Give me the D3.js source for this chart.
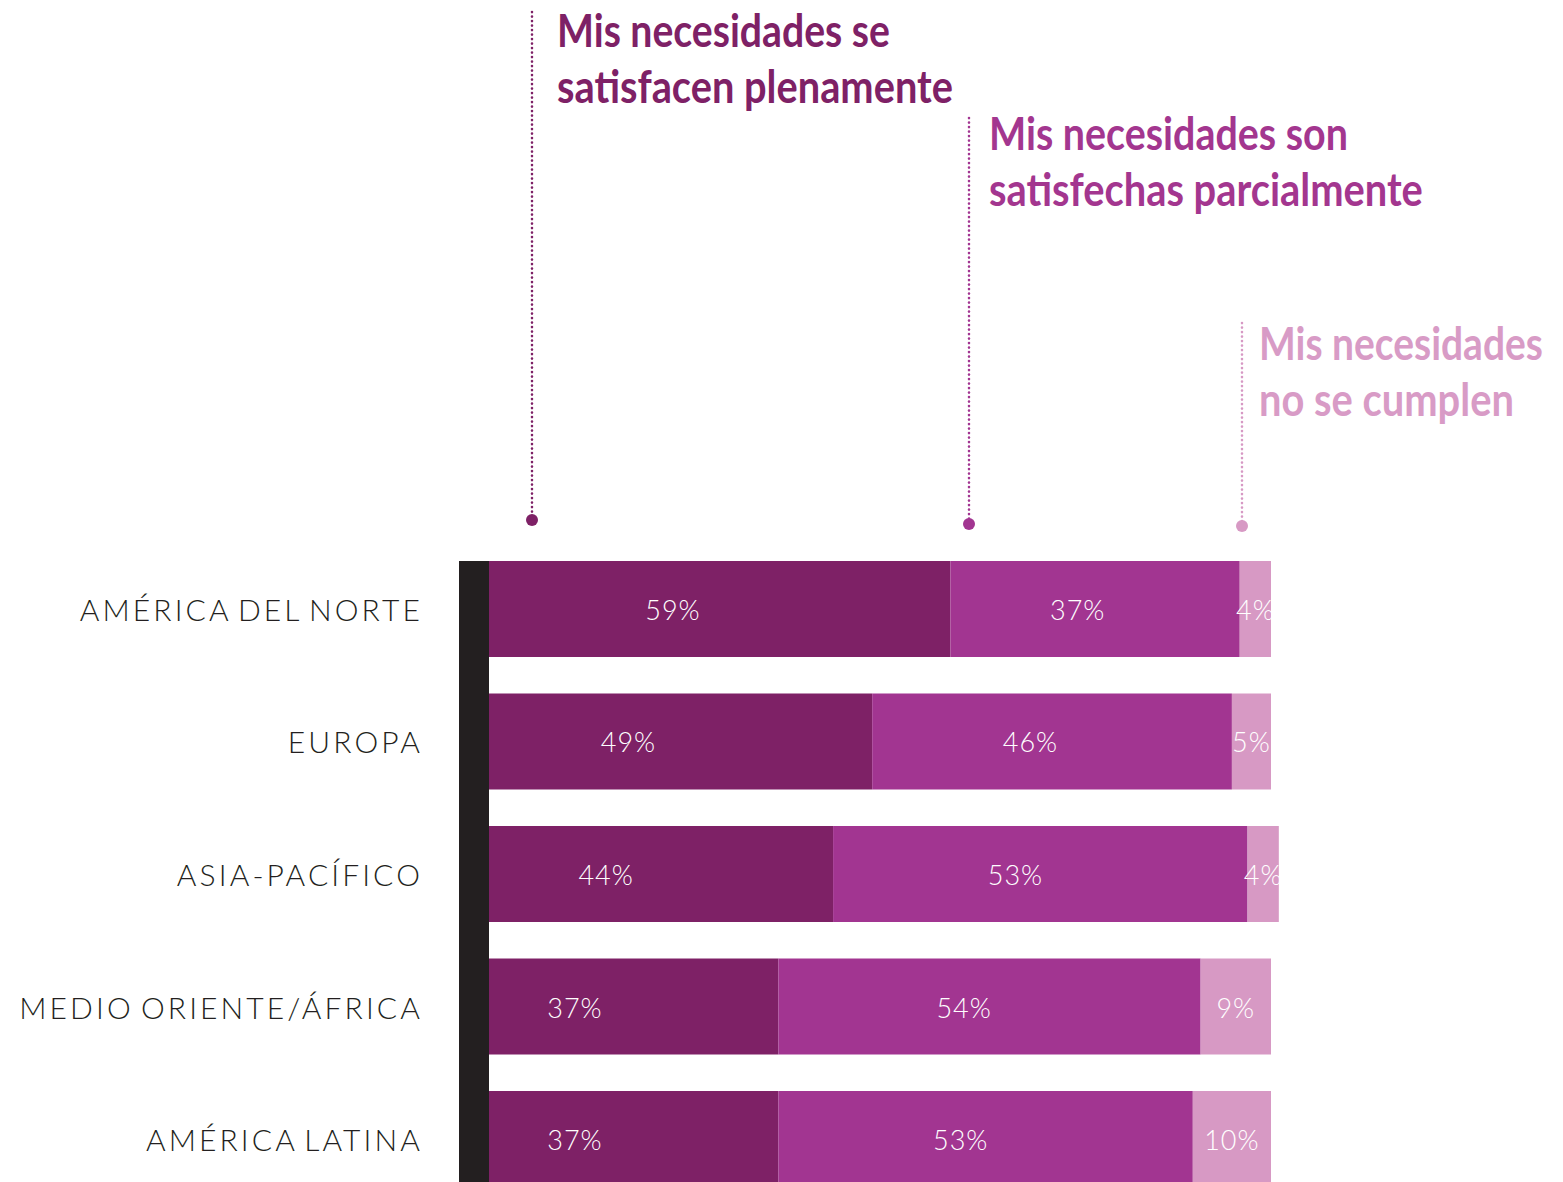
<!DOCTYPE html>
<meta charset="utf-8">
<style>
body {
  margin: 0;
  background: #fff;
}
.region {
  font-family: Lato, "Open Sans", sans-serif;
  font-weight: 300;
  font-size: 30px;
  letter-spacing: 3.1px;
  word-spacing: -4px;
  fill: #231f20;
}
.val {
  font-family: Lato, "Open Sans", sans-serif;
  font-weight: 300;
  font-size: 27px;
  letter-spacing: 1px;
  fill: #fff;
}
.note {
  font-family: Lato, "Open Sans", sans-serif;
  font-weight: 700;
  font-size: 45px;
}
</style>
<body>
<script src="https://d3js.org/d3.v7.min.js"></script>
<script>
// data
var regions = ["AMÉRICA DEL NORTE", "EUROPA", "ASIA-PACÍFICO", "MEDIO ORIENTE/ÁFRICA", "AMÉRICA LATINA"];
var fully = [59, 49, 44, 37, 37];
var partly = [37, 46, 53, 54, 53];
var notMet = [4, 5, 4, 9, 10];
var seriesNames = ["Mis necesidades se satisfacen plenamente",
                   "Mis necesidades son satisfechas parcialmente",
                   "Mis necesidades no se cumplen"];

var colors = ["#7e2166", "#a23591", "#d799c4"];
var textColors = ["#7e2166", "#a3368f", "#d89bc6"];
// where the value label sits inside a segment of width w (pixels)
var labelAt = [
  function(w) { return 0.57 * w - 79; },
  function(w) { return 0.44 * w; },
  function(w) { return 0.5 * w; }
];

var width = 1563, height = 1182;

var svg = d3.select("body").append("svg")
  .attr("width", width).attr("height", height);

var x = d3.scaleLinear().domain([0, 100]).range([489, 1271]);
var y = d3.scaleBand().domain(regions).range([561, 1187])
  .paddingInner(0.2755).paddingOuter(0);

var rows = regions.map(function(r, i) {
  return {region: r, values: [fully[i], partly[i], notMet[i]]};
});

// build segments
var segs = [];
rows.forEach(function(row) {
  var acc = 0;
  row.values.forEach(function(v, k) {
    segs.push({region: row.region, k: k, v: v, x0: acc, x1: acc + v});
    acc += v;
  });
});

svg.append("g").selectAll("rect")
  .data(segs).enter().append("rect")
  .attr("x", d => x(d.x0))
  .attr("y", d => y(d.region))
  .attr("width", d => x(d.x1) - x(d.x0))
  .attr("height", y.bandwidth())
  .attr("fill", d => colors[d.k]);

svg.append("g").selectAll("text")
  .data(segs).enter().append("text")
  .attr("class", "val")
  .attr("x", d => x(d.x0) + labelAt[d.k](x(d.x1) - x(d.x0)))
  .attr("y", d => y(d.region) + y.bandwidth() / 2 + 11)
  .attr("text-anchor", "middle")
  .text(d => d.v + "%");

// dark axis bar on the left
svg.append("rect")
  .attr("x", 459).attr("width", 30)
  .attr("y", y.range()[0]).attr("height", height - y.range()[0])
  .attr("fill", "#231f20");

// region labels
svg.append("g").selectAll("text")
  .data(regions).enter().append("text")
  .attr("class", "region")
  .attr("x", 423)
  .attr("y", d => y(d) + y.bandwidth() / 2 + 12)
  .attr("text-anchor", "end")
  .text(d => d);

// annotations: dotted leader + dot + two lines of bold text
var notes = [
  {lx: 532, top: 12, dot: 520, tx: 557, base: 47,
   lines: ["Mis necesidades se", "satisfacen plenamente"], widths: [333, 396]},
  {lx: 969, top: 118, dot: 524, tx: 989, base: 150,
   lines: ["Mis necesidades son", "satisfechas parcialmente"], widths: [359, 434]},
  {lx: 1242, top: 323, dot: 526, tx: 1259, base: 360,
   lines: ["Mis necesidades", "no se cumplen"], widths: [284, 255]}
];

var ng = svg.append("g").selectAll("g")
  .data(notes).enter().append("g");

ng.append("line")
  .attr("x1", d => d.lx).attr("x2", d => d.lx)
  .attr("y1", d => d.top).attr("y2", d => d.dot)
  .attr("stroke", (d, i) => colors[i])
  .attr("stroke-width", 2.6)
  .attr("stroke-linecap", "round")
  .attr("stroke-dasharray", "0.1 4.4");

ng.append("circle")
  .attr("cx", d => d.lx).attr("cy", d => d.dot)
  .attr("r", 6)
  .attr("fill", (d, i) => colors[i]);

// the original face is narrower than Lato bold, so squeeze each line to its width
ng.each(function(d, i) {
  var g = d3.select(this);
  d.lines.forEach(function(t, j) {
    var txt = g.append("text")
      .attr("class", "note")
      .attr("fill", textColors[i])
      .text(t);
    var natural = txt.node().getComputedTextLength();
    var sx = d.widths[j] / natural;
    txt.attr("transform", "translate(" + d.tx + "," + (d.base + j * 56) + ") scale(" + sx + ",1)");
  });
});
</script>
</body>
